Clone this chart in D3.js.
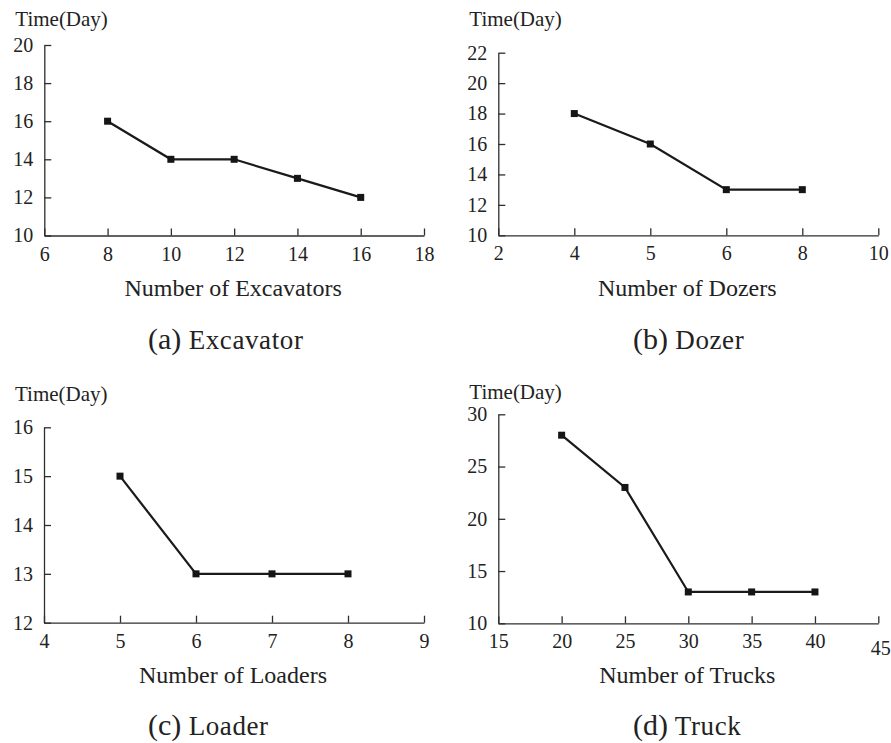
<!DOCTYPE html>
<html>
<head>
<meta charset="utf-8">
<script src="https://cdn.jsdelivr.net/npm/d3@7"></script>
</head>
<body style="margin:0; background:#fff">
<svg id="chart" width="891" height="743"></svg>
<script>
// --- data ---
const excavatorCount = [8, 10, 12, 14, 16];
const excavatorDays = [16, 14, 14, 13, 12];

const dozerTicks = ["2", "4", "5", "6", "8", "10"]; // evenly spaced, not linear
const dozerCount = ["4", "5", "6", "8"];
const dozerDays = [18, 16, 13, 13];

const loaderCount = [5, 6, 7, 8];
const loaderDays = [15, 13, 13, 13];

const truckCount = [20, 25, 30, 35, 40];
const truckDays = [28, 23, 13, 13, 13];

const yLabel = "Time(Day)";

const FONT = "Liberation Serif";
const INK = "#222";
const svg = d3.select("#chart");
const intFmt = d3.format("d");

// panel layout: pixel box of each plot area plus its texts
const panels = [
  {
    xs: excavatorCount, ys: excavatorDays,
    x: d3.scaleLinear().domain([6, 18]).range([44.3, 424]),
    xTicks: d3.range(6, 19, 2),
    y: d3.scaleLinear().domain([10, 20]).range([235.5, 45]),
    yTicks: d3.range(10, 21, 2),
    title: "Number of Excavators", titleY: 296,
    tag: "(a)", caption: "Excavator", capX: 148, capY: 349,
    labelY: 26
  },
  {
    xs: dozerCount, ys: dozerDays,
    x: d3.scalePoint().domain(dozerTicks).range([498.3, 878.3]),
    xTicks: dozerTicks,
    y: d3.scaleLinear().domain([10, 22]).range([235.3, 52.7]),
    yTicks: d3.range(10, 23, 2),
    title: "Number of Dozers", titleY: 296,
    tag: "(b)", caption: "Dozer", capX: 633, capY: 349,
    labelY: 26
  },
  {
    xs: loaderCount, ys: loaderDays,
    x: d3.scaleLinear().domain([4, 9]).range([44, 424]),
    xTicks: d3.range(4, 10, 1),
    y: d3.scaleLinear().domain([12, 16]).range([622.7, 427.3]),
    yTicks: d3.range(12, 17, 1),
    title: "Number of Loaders", titleY: 683,
    tag: "(c)", caption: "Loader", capX: 148, capY: 735,
    labelY: 401
  },
  {
    xs: truckCount, ys: truckDays,
    x: d3.scaleLinear().domain([15, 45]).range([498.3, 878.3]),
    xTicks: d3.range(15, 46, 5),
    y: d3.scaleLinear().domain([10, 30]).range([623.3, 414.3]),
    yTicks: d3.range(10, 31, 5),
    title: "Number of Trucks", titleY: 683,
    tag: "(d)", caption: "Truck", capX: 633, capY: 735,
    labelY: 399
  }
];

function styleAxis(sel) {
  sel.attr("font-family", FONT).attr("font-size", 20);
  sel.selectAll("path, line").attr("stroke", "#2e2e2e").attr("stroke-width", 1.3);
  sel.selectAll("text").attr("fill", INK);
}

panels.forEach((p, idx) => {
  const g = svg.append("g");
  const x0 = p.x.range()[0], x1 = p.x.range()[1];
  const yBottom = p.y.range()[0];

  // x axis, ticks pointing inward
  const xAxis = g.append("g")
    .attr("transform", `translate(0,${yBottom})`)
    .call(d3.axisBottom(p.x).tickValues(p.xTicks)
      .tickFormat(d => typeof d === "number" ? intFmt(d) : d)
      .tickSizeInner(-7).tickSizeOuter(0).tickPadding(11))
    .call(styleAxis);

  // y axis, ticks pointing inward
  g.append("g")
    .attr("transform", `translate(${x0},0)`)
    .call(d3.axisLeft(p.y).tickValues(p.yTicks).tickFormat(intFmt)
      .tickSizeInner(-7).tickSizeOuter(0).tickPadding(11))
    .call(styleAxis);

  // the last tick label of the truck panel sits lower in the original
  if (idx === 3) {
    xAxis.selectAll(".tick text").filter(d => d === 45).attr("y", 18).attr("dx", 2);
  }

  // series line + square markers
  const pts = p.xs.map((v, i) => [p.x(v), p.y(p.ys[i])]);
  g.append("path")
    .datum(pts)
    .attr("fill", "none")
    .attr("stroke", "#1a1a1a")
    .attr("stroke-width", 2.2)
    .attr("d", d3.line());

  g.selectAll("rect.marker")
    .data(pts)
    .enter().append("rect")
      .attr("class", "marker")
      .attr("x", d => d[0] - 3.5)
      .attr("y", d => d[1] - 3.5)
      .attr("width", 7)
      .attr("height", 7)
      .attr("fill", "#151515");

  // y label above the axis
  g.append("text")
    .attr("x", x0 - 29)
    .attr("y", p.labelY)
    .attr("font-family", FONT)
    .attr("font-size", 21)
    .attr("fill", INK)
    .text(yLabel);

  // x axis title
  g.append("text")
    .attr("x", (x0 + x1) / 2 - 1)
    .attr("y", p.titleY)
    .attr("text-anchor", "middle")
    .attr("font-family", FONT)
    .attr("font-size", 24)
    .attr("fill", INK)
    .text(p.title);

  // panel caption
  const cap = g.append("text")
    .attr("x", p.capX)
    .attr("y", p.capY)
    .attr("font-family", FONT)
    .attr("fill", INK);
  cap.append("tspan").attr("font-size", 30).text(p.tag);
  cap.append("tspan").attr("font-size", 27).attr("letter-spacing", 0.6).text(" " + p.caption);
});
</script>
</body>
</html>
